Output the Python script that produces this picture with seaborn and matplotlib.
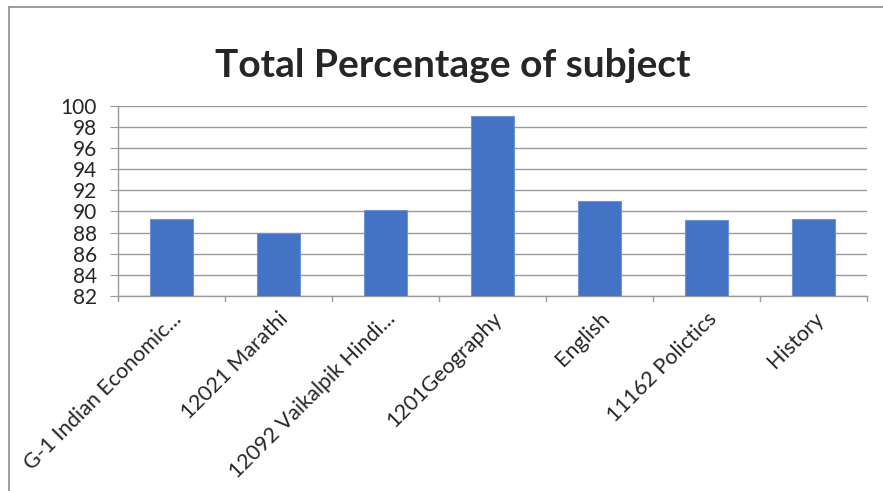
import matplotlib
matplotlib.use("Agg")
import matplotlib.pyplot as plt
import seaborn as sns
import pandas as pd
from matplotlib.lines import Line2D

subjects = ["G-1 Indian Economic...", "12021 Marathi", "12092 Vaikalpik Hindi...",
            "1201Geography", "English", "11162 Polictics", "History"]
percentages = [89.3, 88.0, 90.15, 99.0, 91.0, 89.2, 89.3]
yticks = [82, 84, 86, 88, 90, 92, 94, 96, 98, 100]

df = pd.DataFrame({"subject": subjects, "pct": percentages})

sns.set_style("white")
plt.rcParams['font.family'] = ['Lato', 'DejaVu Sans']

fig = plt.figure(figsize=(8.83, 4.91), dpi=100)
ax = fig.add_axes([0.1333, 0.3971, 0.8482, 0.3876])

sns.barplot(data=df, x="subject", y="pct", color="#4472C4", width=0.4,
            saturation=1, ax=ax, zorder=3, edgecolor="#6f93d6", linewidth=0.8)

ax.set_ylim(82, 100)
ax.set_yticks(yticks)
ax.set_yticklabels([str(t) for t in yticks], fontsize=15)
ax.set_xlim(-0.5, len(subjects) - 0.5)
ax.set_xlabel("")
ax.set_ylabel("")

for t in yticks:
    ax.axhline(t, color="#9a9a9a", linewidth=1.0, zorder=1)

for s in ["top", "right"]:
    ax.spines[s].set_visible(False)
for s in ["left", "bottom"]:
    ax.spines[s].set_color("#9a9a9a")
    ax.spines[s].set_linewidth(1.0)

ax.set_xticks([i for i in range(len(subjects))])
ax.set_xticklabels(subjects, rotation=45, ha="right", rotation_mode="anchor", fontsize=15.5)
ax.tick_params(axis="x", length=0, pad=9)
ax.tick_params(axis="y", length=6, color="#9a9a9a", left=True, pad=9)
for i in range(len(subjects) + 1):
    ax.plot([i - 0.5, i - 0.5], [0, -0.028], transform=ax.get_xaxis_transform(),
            color="#9a9a9a", linewidth=1.0, clip_on=False)

fig.text(0.513, 1 - 77 / 491, "Total Percentage of subject", ha="center", va="baseline",
         fontsize=28, fontweight="bold")

# chart-area border (left and top edges visible)
fig.lines.append(Line2D([8.5 / 883, 8.5 / 883], [0, 1 - 6.5 / 491], transform=fig.transFigure,
                        color="#8c8c8c", linewidth=1.2))
fig.lines.append(Line2D([8.5 / 883, 1], [1 - 6.5 / 491, 1 - 6.5 / 491], transform=fig.transFigure,
                        color="#8c8c8c", linewidth=1.2))

fig.savefig("out.png", dpi=100)
